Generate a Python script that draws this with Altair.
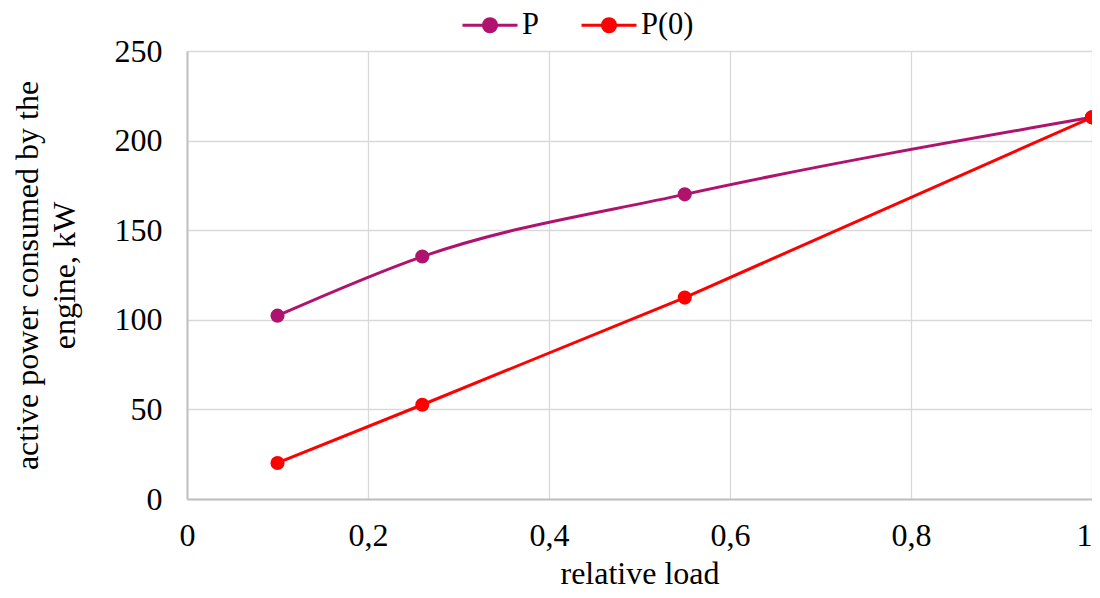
import altair as alt
import pandas as pd

load = [0.1, 0.26, 0.55, 1.0]
p_vals = [102.3, 135.3, 170.0, 213.0]
p0_vals = [20.1, 52.6, 112.4, 213.0]
series_names = ["P", "P(0)"]
series_colors = ["#B0136E", "#FF0000"]
x_ticks = [0, 0.2, 0.4, 0.6, 0.8, 1.0]
y_ticks = [0, 50, 100, 150, 200, 250]

df = pd.DataFrame({
    "load": load * 2,
    "power": p_vals + p0_vals,
    "series": [series_names[0]] * len(load) + [series_names[1]] * len(load),
})

FONT = "Liberation Serif"
FS = 32
comma = "replace(format(datum.value, ''), '.', ',')"

color = alt.Color(
    "series:N",
    scale=alt.Scale(domain=series_names, range=series_colors),
    legend=alt.Legend(
        title=None, orient="none", direction="horizontal",
        legendX=274, legendY=-55, padding=0,
        symbolType="M-1,0H1M-0.24,0A0.24,0.24,0,1,1,0.24,0A0.24,0.24,0,1,1,-0.24,0Z",
        symbolSize=3025, symbolStrokeWidth=3, labelFontSize=30.5, labelFont=FONT,
        labelColor="black", columnPadding=36, labelOffset=3, symbolOffset=0,
    ),
)

x = alt.X("load:Q", title="relative load",
          scale=alt.Scale(domain=[0, 1], nice=False),
          axis=alt.Axis(values=x_ticks, labelExpr=comma,
                        labelAlign=alt.condition("datum.value == 1", alt.value("right"), alt.value("center"))))
y = alt.Y("power:Q", title=["active power consumed by the", "engine, kW"],
          scale=alt.Scale(domain=[0, 250], nice=False),
          axis=alt.Axis(values=y_ticks))

base = alt.Chart(df)
line_p = base.transform_filter(alt.datum.series == "P").mark_line(
    strokeWidth=3, interpolate="monotone").encode(x=x, y=y, color=color)
line_p0 = base.transform_filter(alt.datum.series == "P(0)").mark_line(
    strokeWidth=3).encode(x=x, y=y, color=color)
pts = base.mark_point(filled=True, size=200, opacity=1).encode(
    x=x, y=y, color=color,
    fill=alt.Fill("series:N", scale=alt.Scale(domain=series_names, range=series_colors), legend=None))

chart = alt.layer(line_p, line_p0, pts).properties(
    width=905, height=448,
    autosize=alt.AutoSizeParams(type="none"),
    padding={"left": 179, "top": 43, "right": 0, "bottom": 91},
).configure_view(stroke=None).configure_axis(
    labelFont=FONT, titleFont=FONT, labelFontSize=FS, titleFontSize=FS,
    labelColor="black", titleColor="black", titleFontWeight="normal",
    gridColor="#d9d9d9", gridWidth=1.3, domainColor="#bfbfbf", domainWidth=2,
    ticks=False,
).configure_axisX(labelPadding=21, titlePadding=7
).configure_axisY(labelPadding=25, titlePadding=33, titleLineHeight=37
).configure_legend(labelFont=FONT)

chart.save("out.html", embed_options={"renderer": "svg", "actions": False})
